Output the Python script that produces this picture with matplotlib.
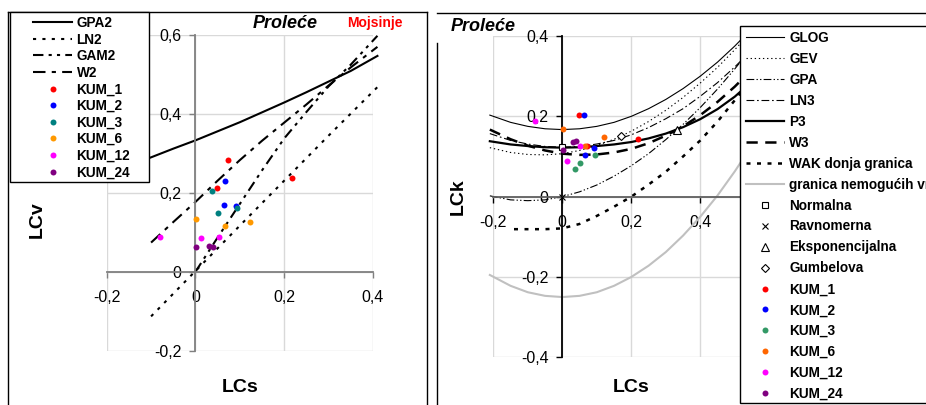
import matplotlib
matplotlib.use('Agg')
import matplotlib.pyplot as plt
from matplotlib.lines import Line2D
from matplotlib.patches import Rectangle

plt.rcParams['font.family'] = ['Liberation Sans', 'DejaVu Sans']

# ---- data: left panel (LCs vs LCv), two-parameter distributions ----
gpa2_x = [-0.2, -0.15, -0.1, -0.05, 0.0, 0.05, 0.1, 0.15, 0.2, 0.25, 0.3, 0.35, 0.41]
gpa2_y = [0.250, 0.270, 0.290, 0.312, 0.333, 0.356, 0.379, 0.404, 0.429, 0.455, 0.482, 0.509, 0.547]
ln2_x = [-0.1, 0.0, 0.1, 0.2, 0.3, 0.41]
ln2_y = [-0.113, 0.002, 0.117, 0.231, 0.345, 0.468]
gam2_x = [0.0, 0.05, 0.1, 0.15, 0.2, 0.25, 0.3, 0.35, 0.41]
gam2_y = [0.0, 0.087, 0.172, 0.257, 0.338, 0.405, 0.470, 0.525, 0.598]
w2_x = [-0.1, -0.05, 0.0, 0.05, 0.1, 0.15, 0.2, 0.25, 0.3, 0.35, 0.41]
w2_y = [0.074, 0.126, 0.177, 0.231, 0.283, 0.332, 0.378, 0.424, 0.472, 0.518, 0.570]

# ---- data: right panel (LCs vs LCk), three-parameter distributions ----
lcs_grid = [-0.21, -0.15, -0.1, -0.05, 0.0, 0.05, 0.1, 0.15, 0.2, 0.25, 0.3, 0.35, 0.4, 0.45, 0.5, 0.55]
glog_y = [0.203, 0.185, 0.175, 0.169, 0.167, 0.169, 0.175, 0.185, 0.200, 0.219, 0.242, 0.269, 0.300, 0.335, 0.375, 0.419]
gev_y = [0.122, 0.110, 0.105, 0.104, 0.107, 0.115, 0.127, 0.143, 0.163, 0.187, 0.215, 0.247, 0.283, 0.322, 0.366, 0.413]
gpa_y = [0.002, -0.008, -0.010, -0.008, 0.000, 0.012, 0.029, 0.051, 0.077, 0.107, 0.142, 0.180, 0.222, 0.268, 0.318, 0.372]
ln3_y = [0.157, 0.140, 0.131, 0.125, 0.123, 0.125, 0.131, 0.140, 0.154, 0.172, 0.194, 0.219, 0.250, 0.284, 0.323, 0.366]
p3_y = [0.138, 0.130, 0.126, 0.123, 0.122, 0.123, 0.126, 0.130, 0.136, 0.145, 0.157, 0.173, 0.193, 0.218, 0.249, 0.287]
w3_y = [0.167, 0.143, 0.127, 0.115, 0.107, 0.104, 0.105, 0.110, 0.119, 0.133, 0.152, 0.175, 0.203, 0.236, 0.274, 0.317]
wak_x = [-0.14, -0.1, -0.05, 0.0, 0.05, 0.1, 0.15, 0.2, 0.25, 0.3, 0.35, 0.4, 0.45, 0.5, 0.55]
wak_y = [-0.081, -0.081, -0.081, -0.079, -0.068, -0.048, -0.025, 0.000, 0.030, 0.062, 0.100, 0.140, 0.187, 0.240, 0.297]
gran_x = [-0.21, -0.15, -0.1, -0.05, 0.0, 0.05, 0.1, 0.15, 0.2, 0.25, 0.3, 0.35, 0.4, 0.45, 0.5, 0.55, 0.6]
gran_y = [-0.195, -0.222, -0.238, -0.247, -0.250, -0.247, -0.238, -0.222, -0.200, -0.172, -0.138, -0.097, -0.050, 0.003, 0.063, 0.128, 0.200]

# special distributions (LCs, LCk)
norm_pt = ([0.0], [0.123])
unif_pt = ([0.0], [0.0])
expo_pt = ([0.333], [0.167])
gumb_pt = ([0.170], [0.150])

# ---- sample points ----
kum_names = ['KUM_1', 'KUM_2', 'KUM_3', 'KUM_6', 'KUM_12', 'KUM_24']
kum_cs = [[0.0485, 0.0726, 0.218], [0.064, 0.067, 0.092], [0.037, 0.050, 0.094],
          [0.002, 0.067, 0.122], [-0.080, 0.013, 0.052], [0.001, 0.031, 0.039]]
kum_cv = [[0.213, 0.282, 0.238], [0.168, 0.231, 0.166], [0.205, 0.149, 0.161],
          [0.133, 0.116, 0.126], [0.089, 0.086, 0.089], [0.063, 0.065, 0.063]]
kum_ck = [[0.204, 0.125, 0.143], [0.204, 0.104, 0.120], [0.069, 0.083, 0.104],
          [0.168, 0.127, 0.148], [0.189, 0.090, 0.127], [0.116, 0.135, 0.139]]
colors_left = ['#ff0000', '#0000ff', '#008080', '#ff9900', '#ff00ff', '#800080']
colors_right = ['#ff0000', '#0000ff', '#339966', '#ff6600', '#ff00ff', '#800080']

left_xticks = [-0.2, 0.0, 0.2, 0.4]
left_xlabels = ['-0,2', '0', '0,2', '0,4']
left_yticks = [-0.2, 0.0, 0.2, 0.4, 0.6]
left_ylabels = ['-0,2', '0', '0,2', '0,4', '0,6']
right_xticks = [-0.2, 0.0, 0.2, 0.4]
right_xlabels = ['-0,2', '0', '0,2', '0,4']
right_xmax = 1.0
right_yticks = [-0.4, -0.2, 0.0, 0.2, 0.4]
right_ylabels = ['-0,4', '-0,2', '0', '0,2', '0,4']

W, H = 926, 405
fig = plt.figure(figsize=(W / 100, H / 100), dpi=100)


def fx(px):
    return px / W


def fy(py):
    return 1 - py / H


def add_ax(l, t, r, b):
    return fig.add_axes([fx(l), fy(b), (r - l) / W, (b - t) / H])


def style(ax, xt, xl, yt, yl, spine_col, xmax=None):
    ax.set_xlim(xt[0], xmax if xmax is not None else xt[-1])
    ax.set_ylim(yt[0], yt[-1])
    ax.set_xticks(xt, xl)
    ax.set_yticks(yt, yl)
    ax.grid(True, color='#d9d9d9', lw=1)
    ax.set_axisbelow(True)
    for s in ['top', 'right']:
        ax.spines[s].set_visible(False)
    for s in ['left', 'bottom']:
        ax.spines[s].set_position(('data', 0))
        ax.spines[s].set_color(spine_col)
        ax.spines[s].set_linewidth(1.3)
    ax.tick_params(axis='x', direction='out', length=4, width=1, color=spine_col,
                   labelsize=11.5, pad=9)
    ax.tick_params(axis='y', direction='out', length=4, width=1, color=spine_col,
                   labelsize=11.5, pad=6)


ax1 = add_ax(106.7, 35, 373, 350.7)
ax2 = add_ax(493.3, 36, 907.3, 357.3)
style(ax1, left_xticks, left_xlabels, left_yticks, left_ylabels, '#808080')
style(ax2, right_xticks, right_xlabels, right_yticks, right_ylabels, '#000000', right_xmax)
ax2.spines['bottom'].set_color('#606060')

# left panel lines
ls_gam2 = (0, (5, 2.5, 1.5, 2.5, 1.5, 2.5))
ls_w2 = (0, (6, 3, 2, 3))
ls_ln2 = (0, (1.5, 3))
ax1.plot(gpa2_x, gpa2_y, color='k', lw=1.5, clip_on=False)
ax1.plot(ln2_x, ln2_y, color='k', lw=1.5, ls=ls_ln2, clip_on=False)
ax1.plot(gam2_x, gam2_y, color='k', lw=1.5, ls=ls_gam2, clip_on=False)
ax1.plot(w2_x, w2_y, color='k', lw=1.5, ls=ls_w2, clip_on=False)
for cs, cv, c in zip(kum_cs, kum_cv, colors_left):
    ax1.plot(cs, cv, ls='none', marker='o', ms=4.3, color=c, mew=0, zorder=5)

# right panel lines
ls_gev = (0, (1.2, 2.5))
ls_gpa = (0, (7, 2, 1.2, 2, 1.2, 2))
ls_ln3 = (0, (7, 2.5, 1.5, 2.5))
ls_w3 = (0, (4.5, 3))
ls_wak = (0, (1.6, 2.6))
ax2.plot(gran_x, gran_y, color='#c0c0c0', lw=1.5, clip_on=False)
ax2.plot(lcs_grid, glog_y, color='k', lw=0.8, clip_on=False)
ax2.plot(lcs_grid, gev_y, color='k', lw=0.8, ls=ls_gev, clip_on=False)
ax2.plot(lcs_grid, gpa_y, color='k', lw=0.8, ls=ls_gpa, clip_on=False)
ax2.plot(lcs_grid, ln3_y, color='k', lw=0.8, ls=ls_ln3, clip_on=False)
ax2.plot(lcs_grid, p3_y, color='k', lw=1.6, clip_on=False)
ax2.plot(lcs_grid, w3_y, color='k', lw=1.8, ls=ls_w3, clip_on=False)
ax2.plot(wak_x, wak_y, color='k', lw=1.8, ls=ls_wak, clip_on=False)
ax2.plot(*norm_pt, ls='none', marker='s', ms=4.8, mfc='white', mec='k', mew=0.8, zorder=5)
ax2.plot(*unif_pt, ls='none', marker='x', ms=5, color='k', mew=0.8, zorder=5)
ax2.plot(*expo_pt, ls='none', marker='^', ms=5.5, mfc='white', mec='k', mew=0.8, zorder=5)
ax2.plot(*gumb_pt, ls='none', marker='D', ms=4.5, mfc='white', mec='k', mew=0.8, zorder=5)
for cs, ck, c in zip(kum_cs, kum_ck, colors_right):
    ax2.plot(cs, ck, ls='none', marker='o', ms=4.3, color=c, mew=0, zorder=6)


def fline(x0, y0, x1, y1, **kw):
    fig.add_artist(Line2D([fx(x0), fx(x1)], [fy(y0), fy(y1)], transform=fig.transFigure, **kw))


# panel frames
fline(8, 12.3, 427, 12.3, color='k', lw=1)
fline(8, 12.3, 8, 420, color='k', lw=1)
fline(427, 12.3, 427, 420, color='k', lw=1)
fline(437, 12.8, 940, 12.8, color='k', lw=1)
fline(437, 43, 437, 420, color='k', lw=1)

# legend boxes
fig.add_artist(Rectangle((fx(10), fy(182)), (149 - 10) / W, (182 - 12) / H, transform=fig.transFigure,
                         facecolor='white', edgecolor='k', lw=1, zorder=2))
fig.add_artist(Rectangle((fx(740), fy(403)), (960 - 740) / W, (403 - 25.7) / H, transform=fig.transFigure,
                         facecolor='white', edgecolor='k', lw=1, zorder=2))

leg_prop = dict(weight='bold', size=9.8)
h_left = [Line2D([], [], color='k', lw=1.5),
          Line2D([], [], color='k', lw=1.5, ls=ls_ln2),
          Line2D([], [], color='k', lw=1.5, ls=ls_gam2),
          Line2D([], [], color='k', lw=1.5, ls=ls_w2)]
h_left += [Line2D([], [], ls='none', marker='o', ms=4.3, mew=0, color=c) for c in colors_left]
fig.legend(h_left, ['GPA2', 'LN2', 'GAM2', 'W2'] + kum_names, loc='upper left',
           bbox_to_anchor=(fx(33), fy(16)), bbox_transform=fig.transFigure, frameon=False,
           borderpad=0, borderaxespad=0, handlelength=2.9, handletextpad=0.3,
           labelspacing=0.19, prop=leg_prop, numpoints=1)

h_right = [Line2D([], [], color='k', lw=0.8),
           Line2D([], [], color='k', lw=0.8, ls=ls_gev),
           Line2D([], [], color='k', lw=0.8, ls=ls_gpa),
           Line2D([], [], color='k', lw=0.8, ls=ls_ln3),
           Line2D([], [], color='k', lw=1.6),
           Line2D([], [], color='k', lw=1.8, ls=ls_w3),
           Line2D([], [], color='k', lw=1.8, ls=ls_wak),
           Line2D([], [], color='#c0c0c0', lw=1.5),
           Line2D([], [], ls='none', marker='s', ms=4.8, mfc='white', mec='k', mew=0.8),
           Line2D([], [], ls='none', marker='x', ms=5, color='k', mew=0.8),
           Line2D([], [], ls='none', marker='^', ms=5.5, mfc='white', mec='k', mew=0.8),
           Line2D([], [], ls='none', marker='D', ms=4.5, mfc='white', mec='k', mew=0.8)]
h_right += [Line2D([], [], ls='none', marker='o', ms=4.3, mew=0, color=c) for c in colors_right]
labels_right = ['GLOG', 'GEV', 'GPA', 'LN3', 'P3', 'W3', 'WAK donja granica',
                'granica nemogućih vrednosti', 'Normalna', 'Ravnomerna', 'Eksponencijalna',
                'Gumbelova'] + kum_names
fig.legend(h_right, labels_right, loc='upper left',
           bbox_to_anchor=(fx(746), fy(31)), bbox_transform=fig.transFigure, frameon=False,
           borderpad=0, borderaxespad=0, handlelength=2.8, handletextpad=0.38,
           labelspacing=0.51, prop=leg_prop, numpoints=1)

# titles and axis labels
fig.text(fx(285), fy(24), 'Proleće', ha='center', va='center', fontsize=13,
         fontweight='bold', fontstyle='italic')
fig.text(fx(375), fy(23), 'Mojsinje', ha='center', va='center', fontsize=10,
         fontweight='bold', color='#ff0000')
fig.text(fx(483), fy(26.7), 'Proleće', ha='center', va='center', fontsize=13,
         fontweight='bold', fontstyle='italic')
fig.text(fx(37), fy(220), 'LCv', ha='center', va='center', rotation=90, fontsize=14, fontweight='bold')
fig.text(fx(240), fy(387), 'LCs', ha='center', va='center', fontsize=14, fontweight='bold')
fig.text(fx(458), fy(197), 'LCk', ha='center', va='center', rotation=90, fontsize=14, fontweight='bold')
fig.text(fx(631), fy(388), 'LCs', ha='center', va='center', fontsize=14, fontweight='bold')

fig.savefig('out.png', dpi=100)
